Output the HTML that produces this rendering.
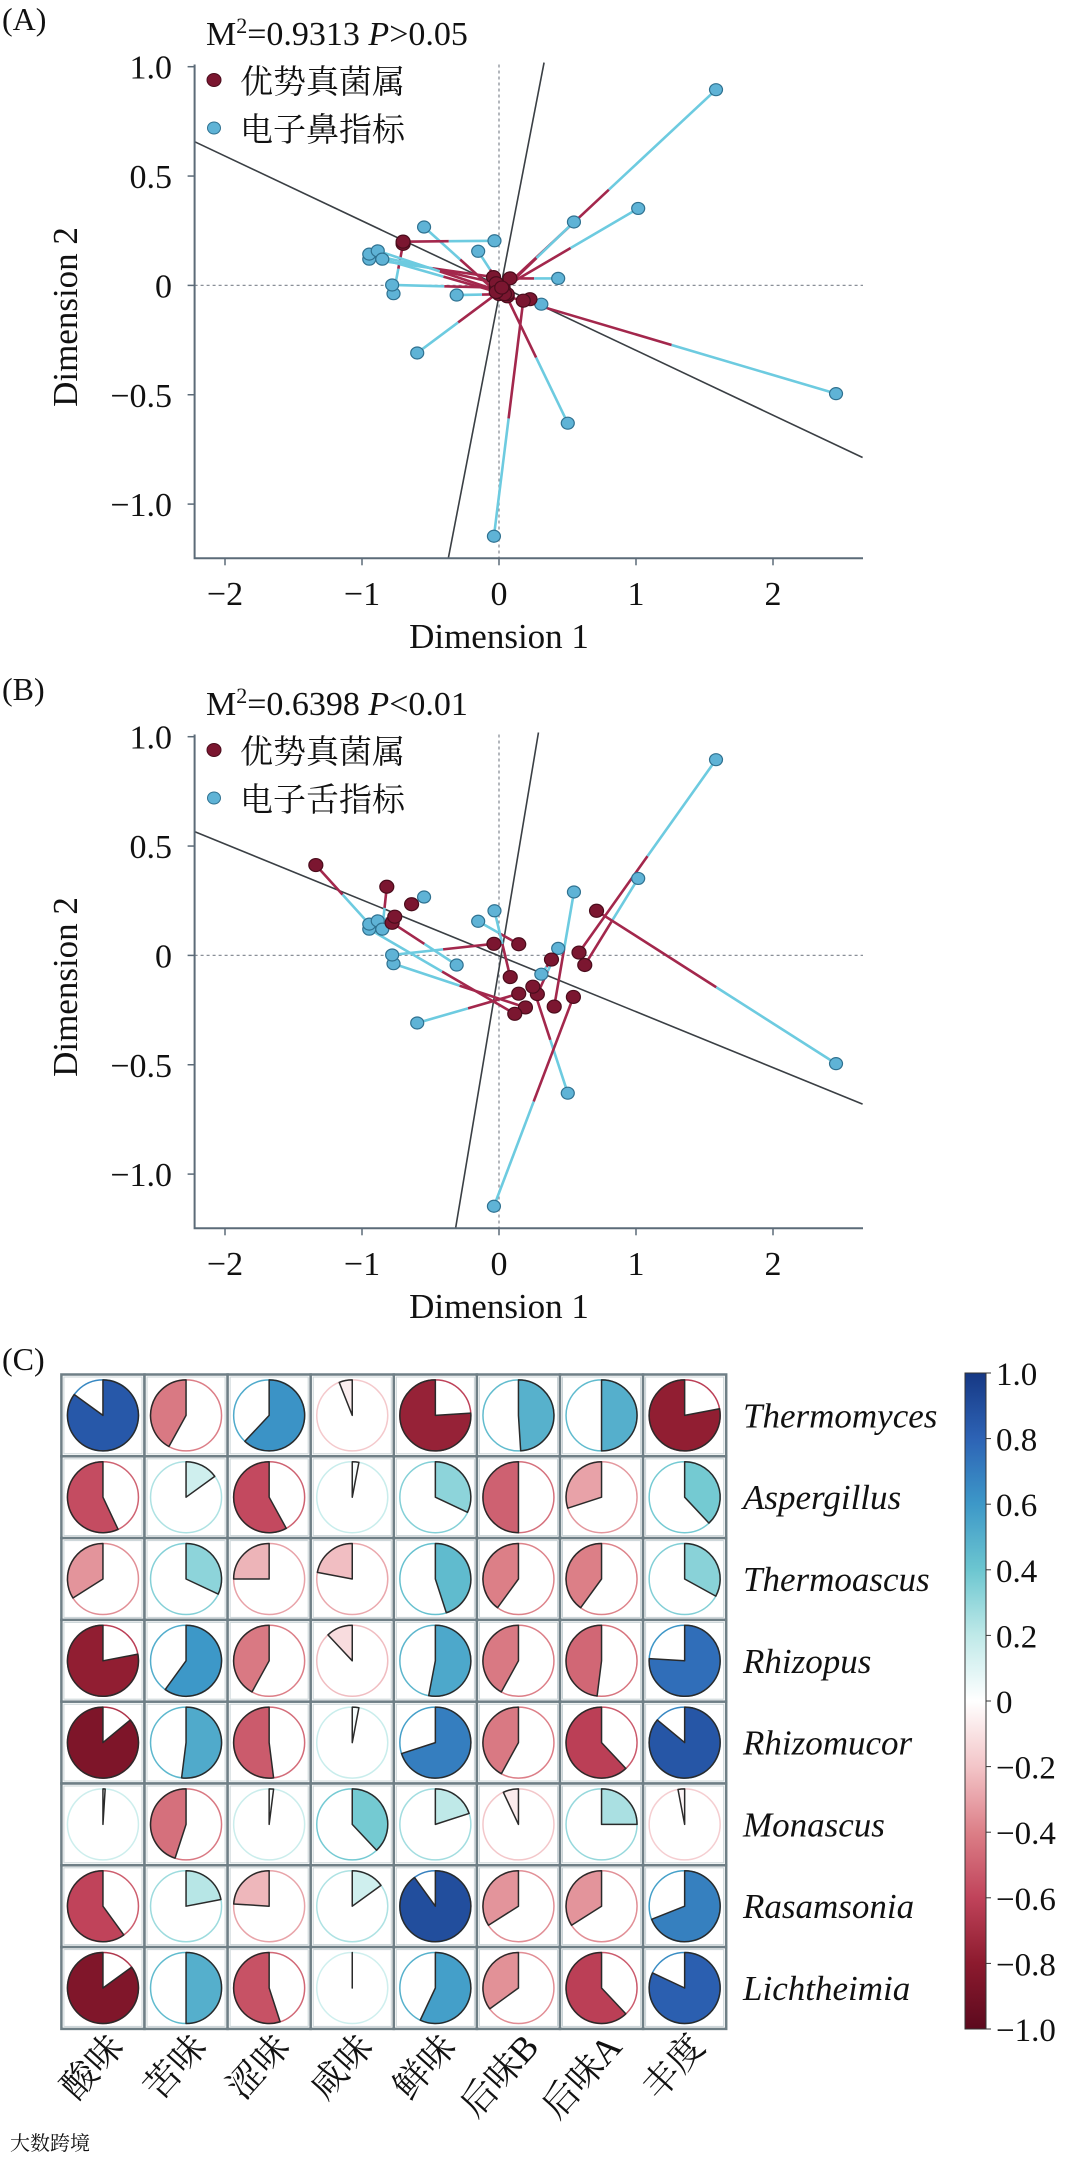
<!DOCTYPE html>
<html><head><meta charset="utf-8">
<style>
html,body{margin:0;padding:0;background:#fff;}
svg{display:block;}
svg text{font-family:"Liberation Serif","Noto Serif CJK SC",serif;fill:#111;}
</style></head>
<body>
<svg id="fig" width="1080" height="2158" viewBox="0 0 1080 2158" xmlns="http://www.w3.org/2000/svg" font-family="'Liberation Serif','Noto Serif CJK SC',serif">
<rect x="0" y="0" width="1080" height="2158" fill="#fff"/>
<g id="panelA"></g>
<g id="panelB"></g>
<g id="panelC"></g>
</svg>
<script>
// ---------- Panel A/B data ----------
const xTicks = [-2, -1, 0, 1, 2];
const yTicks = [1.0, 0.5, 0, -0.5, -1.0];
const yTickLabels = ["1.0", "0.5", "0", "\u22120.5", "\u22121.0"];
const xTickLabels = ["\u22122", "\u22121", "0", "1", "2"];
const sensorX = [1.584, 1.016, 0.547, 0.432, 0.309, 2.46, 0.502, -0.037, -0.597, -0.309, -0.77, -0.78, -0.947, -0.947, -0.885, -0.852, -0.547, -0.152, -0.033];
const sensorY = [0.895, 0.352, 0.29, 0.032, -0.086, -0.495, -0.63, -1.147, -0.309, -0.044, -0.038, 0.002, 0.12, 0.143, 0.158, 0.12, 0.267, 0.156, 0.204];
const fungiAX = [0.02, 0.03, 0.0, 0.08, 0.226, 0.06, 0.04, 0.177, 0.0, 0.06, -0.70, -0.02, -0.04, -0.02, 0.02, 0.04, -0.02, 0.02, -0.70];
const fungiAY = [-0.02, -0.01, -0.04, 0.032, -0.063, -0.05, -0.03, -0.07, -0.03, -0.04, 0.19, -0.01, 0.038, 0.01, -0.03, -0.04, -0.03, -0.01, 0.20];
const fungiBX = [0.584, 0.626, 0.403, 0.28, 0.383, 0.712, 0.247, 0.543, 0.144, -0.78, 0.193, -0.037, 0.115, -1.337, -0.761, -0.819, -0.638, 0.144, 0.082];
const fungiBY = [0.013, -0.044, -0.234, -0.177, -0.019, 0.204, -0.143, -0.19, -0.175, 0.149, -0.238, 0.053, -0.267, 0.413, 0.177, 0.314, 0.234, 0.051, -0.099];
const rotA = [[-2.222, 0.657, 2.654, -0.787], [-0.370, -1.248, 0.329, 1.019]];
const rotB = [[-2.222, 0.566, 2.654, -0.680], [-0.317, -1.248, 0.288, 1.019]];

// ---------- Panel C data ----------
const genera = ["Thermomyces","Aspergillus","Thermoascus","Rhizopus","Rhizomucor","Monascus","Rasamsonia","Lichtheimia"];
const tastes = ["酸味","苦味","涩味","咸味","鲜味","后味B","后味A","丰度"];
const corrThermomyces = [0.85, -0.42, 0.62, -0.06, -0.76, 0.49, 0.5, -0.78];
const corrAspergillus = [-0.57, 0.15, -0.58, 0.03, 0.32, -0.5, -0.3, 0.38];
const corrThermoascus = [-0.34, 0.32, -0.25, -0.22, 0.45, -0.4, -0.4, 0.33];
const corrRhizopus = [-0.78, 0.6, -0.42, -0.12, 0.53, -0.42, -0.48, 0.76];
const corrRhizomucor = [-0.86, 0.52, -0.52, 0.03, 0.7, -0.42, -0.62, 0.86];
const corrMonascus = [0.01, -0.45, 0.02, 0.38, 0.2, -0.07, 0.25, -0.03];
const corrRasamsonia = [-0.6, 0.22, -0.24, 0.15, 0.9, -0.34, -0.34, 0.69];
const corrLichtheimia = [-0.85, 0.5, -0.55, 0.0, 0.57, -0.35, -0.62, 0.82];
const corrRows = [corrThermomyces, corrAspergillus, corrThermoascus, corrRhizopus, corrRhizomucor, corrMonascus, corrRasamsonia, corrLichtheimia];
const cbTicks = [1.0, 0.8, 0.6, 0.4, 0.2, 0, -0.2, -0.4, -0.6, -0.8, -1.0];
const cbLabels = ["1.0","0.8","0.6","0.4","0.2","0","\u22120.2","\u22120.4","\u22120.6","\u22120.8","\u22121.0"];

const NS = "http://www.w3.org/2000/svg";
function mk(tag, attrs, parent, txt) {
  const e = document.createElementNS(NS, tag);
  for (const k in attrs) e.setAttribute(k, attrs[k]);
  if (txt !== undefined) e.textContent = txt;
  parent.appendChild(e);
  return e;
}

function drawPanel(g, oy, letter, title1, pText, legend2, fx, fy, rot) {
  const sx = v => 499 + 137 * v;
  const sy = v => oy + 285.4 - 218.7 * v;
  const L = 194.6, R = 863, T = oy + 64.5, B = oy + 558.3;
  let t;
  t = mk("text", {x: 2, y: oy + 30, "font-size": 32}, g, "(" + letter + ")");
  
  
  t = mk("text", {x: 206, y: oy + 45, "font-size": 34}, g);
  
  
  t.innerHTML = 'M<tspan font-size="22" dy="-12">2</tspan><tspan dy="12">=' + title1 + ' </tspan><tspan font-style="italic">P</tspan>' + pText;
  let zl = mk("line", {x1: L, x2: R, y1: sy(0), y2: sy(0), stroke: "#8a9098", "stroke-width": 1.3, "stroke-dasharray": "3,3"}, g);
  
  
  zl = mk("line", {x1: sx(0), x2: sx(0), y1: T, y2: B, stroke: "#8a9098", "stroke-width": 1.3, "stroke-dasharray": "3,3"}, g);
  
  
  rot.forEach((r, i) => {
    const l = mk("line", {x1: sx(r[0]), y1: sy(r[1]), x2: sx(r[2]), y2: sy(r[3]), stroke: "#3a3f44", "stroke-width": 1.6}, g);
    
    
  });
  for (let i = 0; i < sensorX.length; i++) {
    const x1 = sx(fx[i]), y1 = sy(fy[i]), x2 = sx(sensorX[i]), y2 = sy(sensorY[i]);
    const mx = (x1 + x2) / 2, my = (y1 + y2) / 2;
    const a = mk("line", {x1: x1, y1: y1, x2: mx, y2: my, stroke: "#a3274c", "stroke-width": 2.6}, g);
    
    
    const b = mk("line", {x1: mx, y1: my, x2: x2, y2: y2, stroke: "#6dcbe0", "stroke-width": 2.6}, g);
    
    
  }
  for (let i = 0; i < sensorX.length; i++) {
    const c = mk("ellipse", {cx: sx(sensorX[i]), cy: sy(sensorY[i]), rx: 6.5, ry: 6, fill: "#5fb3d6", stroke: "#2f7190", "stroke-width": 1.2}, g);
    
    
  }
  for (let i = 0; i < fx.length; i++) {
    const c = mk("ellipse", {cx: sx(fx[i]), cy: sy(fy[i]), rx: 7, ry: 6.5, fill: "#7b1630", stroke: "#4a0c1c", "stroke-width": 1.2}, g);
    
    
  }
  const ax = mk("path", {d: `M${L},${T} V${B} H${R}`, fill: "none", stroke: "#5c6b78", "stroke-width": 2}, g);
  
  
  xTicks.forEach((v, i) => {
    mk("line", {x1: sx(v), x2: sx(v), y1: B, y2: B + 7, stroke: "#5c6b78", "stroke-width": 1.5}, g);
    const tl = mk("text", {x: sx(v), y: oy + 605, "font-size": 34, "text-anchor": "middle"}, g, xTickLabels[i]);
    
    
  });
  yTicks.forEach((v, i) => {
    mk("line", {x1: L - 7, x2: L, y1: sy(v), y2: sy(v), stroke: "#5c6b78", "stroke-width": 1.5}, g);
    const tl = mk("text", {x: 172, y: sy(v) + 12, "font-size": 34, "text-anchor": "end"}, g, yTickLabels[i]);
    
    
  });
  t = mk("text", {x: 499, y: oy + 648, "font-size": 35, "text-anchor": "middle"}, g, "Dimension 1");
  
  
  t = mk("text", {x: 0, y: 0, "font-size": 35, "text-anchor": "middle", transform: `translate(77,${oy + 317}) rotate(-90)`}, g, "Dimension 2");
  
  
  const lg = mk("g", {}, g);
  
  
  mk("ellipse", {cx: 214, cy: oy + 80, rx: 7, ry: 6.5, fill: "#7b1630", stroke: "#4a0c1c"}, lg);
  t = mk("text", {x: 240, y: oy + 93, "font-size": 33}, lg, "优势真菌属");
  
  
  mk("ellipse", {cx: 214, cy: oy + 128, rx: 6.5, ry: 6, fill: "#5fb3d6", stroke: "#2f7190"}, lg);
  t = mk("text", {x: 240, y: oy + 141, "font-size": 33}, lg, legend2);
  
  
}

drawPanel(document.getElementById("panelA"), 0, "A", "0.9313", "&gt;0.05", "电子鼻指标", fungiAX, fungiAY, rotA);
drawPanel(document.getElementById("panelB"), 670, "B", "0.6398", "&lt;0.01", "电子舌指标", fungiBX, fungiBY, rotB);

// ---------- Panel C ----------
const stops = [[-1,[92,10,30]],[-0.8,[140,26,46]],[-0.6,[192,67,90]],[-0.4,[220,127,135]],[-0.2,[243,197,200]],[0,[255,255,255]],[0.2,[191,233,232]],[0.4,[108,198,208]],[0.6,[61,152,200]],[0.8,[45,99,181]],[1,[22,56,132]]];
function cmap(v) {
  v = Math.max(-1, Math.min(1, v));
  for (let i = 0; i < stops.length - 1; i++) {
    const a = stops[i], b = stops[i + 1];
    if (v >= a[0] && v <= b[0]) {
      const t = (v - a[0]) / (b[0] - a[0]);
      const c = a[1].map((x, k) => Math.round(x + (b[1][k] - x) * t));
      return `rgb(${c[0]},${c[1]},${c[2]})`;
    }
  }
  return "#fff";
}
const gC = document.getElementById("panelC");
let tc = mk("text", {x: 2, y: 1370, "font-size": 32}, gC, "(C)");


const GL = 61.4, GT = 1374.5, CW = 83.1, CH = 81.8, RR = 35.5;
corrRows.forEach((row, r) => {
  row.forEach((v, c) => {
    const x = GL + c * CW, y = GT + r * CH, cx = x + CW / 2, cy = y + CH / 2;
    const cell = mk("g", {}, gC);
    
    
    mk("rect", {x: x, y: y, width: CW, height: CH, fill: "#fff", stroke: "#6f7f86", "stroke-width": 2.5}, cell);
    mk("rect", {x: x + 2.5, y: y + 2.5, width: CW - 5, height: CH - 5, fill: "none", stroke: "#c9d3d6", "stroke-width": 1}, cell);
    const col = cmap(v);
    mk("circle", {cx: cx, cy: cy, r: RR, fill: "#fff", stroke: cmap(v * 0.6 + (v >= 0 ? 0.15 : -0.15)), "stroke-width": 1.5}, cell);
    const ext = Math.min(Math.abs(v), 0.999) * 2 * Math.PI;
    const a0 = -Math.PI / 2;
    const a1 = v >= 0 ? a0 + ext : a0 - ext;
    const ex = cx + RR * Math.cos(a1), ey = cy + RR * Math.sin(a1);
    const large = Math.abs(v) > 0.5 ? 1 : 0;
    const sweep = v >= 0 ? 1 : 0;
    const d = `M${cx},${cy} L${cx},${cy - RR} A${RR},${RR} 0 ${large} ${sweep} ${ex},${ey} Z`;
    mk("path", {d: d, fill: col, stroke: "#2a2a2a", "stroke-width": 1.5, "stroke-linejoin": "round"}, cell);
  });
});
genera.forEach((gname, r) => {
  const t = mk("text", {x: 743, y: GT + r * CH + CH / 2 + 12, "font-size": 35, "font-style": "italic"}, gC, gname);
  
  
});
tastes.forEach((tn, c) => {
  const px = GL + c * CW + CW / 2 + 22, py = 2048;
  const t = mk("text", {x: 0, y: 0, "font-size": 36, "text-anchor": "end", transform: `translate(${px},${py}) rotate(-48)`}, gC, tn);
  
  
});
const defs = mk("defs", {}, gC);
const grad = mk("linearGradient", {id: "cbg", x1: 0, y1: 0, x2: 0, y2: 1}, defs);
for (let i = 0; i <= 20; i++) {
  const v = 1 - i / 10;
  mk("stop", {offset: (i / 20), "stop-color": cmap(v)}, grad);
}
const CBT = 1373, CBB = 2029;
const cb = mk("rect", {x: 965, y: CBT, width: 21, height: CBB - CBT, fill: "url(#cbg)", stroke: "#333", "stroke-width": 1}, gC);


cbTicks.forEach((v, i) => {
  const y = CBT + (1 - v) / 2 * (CBB - CBT);
  mk("line", {x1: 986, x2: 991, y1: y, y2: y, stroke: "#333", "stroke-width": 1}, gC);
  const t = mk("text", {x: 996, y: y + 12, "font-size": 33}, gC, cbLabels[i]);
  
  
});
const wm = mk("text", {x: 10, y: 2150, "font-size": 20, fill: "#d0d0d0"}, gC, "大数跨境");


</script>
</body></html>
